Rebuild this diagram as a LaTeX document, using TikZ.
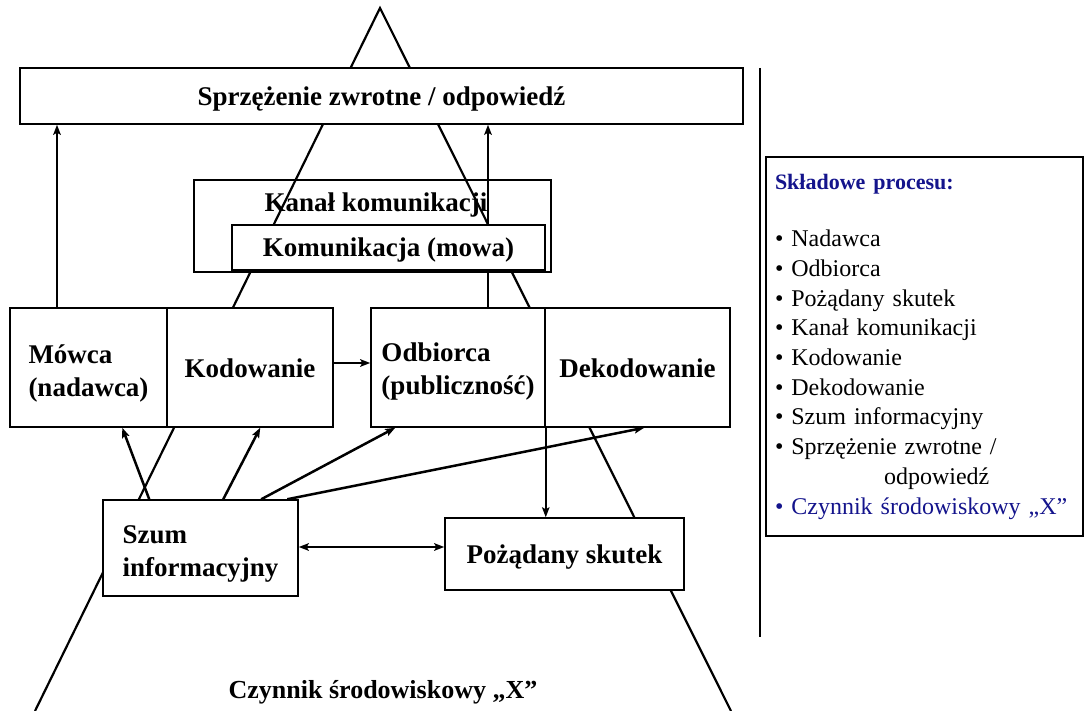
\documentclass[tikz,border=0pt]{standalone}
\usepackage{fontspec}
\setmainfont{Liberation Serif}
\usetikzlibrary{arrows.meta}
\pgfdeclarelayer{back}
\pgfsetlayers{back,main}
\definecolor{listblue}{RGB}{20,20,140}
% lower a piece of text without changing the space it claims
\newcommand{\nudge}[2]{\raisebox{-#1}[\height][\depth]{#2}}
\newcommand{\twolines}[2]{\begin{tabular}{@{}l@{}}#1\\#2\end{tabular}}
\begin{document}
\begin{tikzpicture}[x=1pt,y=-1pt,
  box/.style={draw, line width=1.5pt, fill=white, inner sep=0pt,
    font=\fontsize{27}{33}\selectfont\bfseries},
  arr/.style={line width=2pt, -{Stealth[length=10pt,width=7.5pt,inset=2pt]}},
  noisearr/.style={arr, line width=2.5pt},
  thinarr/.style={arr, line width=1.6pt},
  dblarr/.style={line width=2.2pt, {Stealth[length=10pt,width=7.5pt,inset=2pt]}-{Stealth[length=10pt,width=7.5pt,inset=2pt]}},
  edge/.style={line width=2.2pt},
]
\useasboundingbox (0,0) rectangle (1085,711);

% main boxes
\node[box, minimum width=723pt, minimum height=56pt] (fb) at (381.5,96) {\nudge{3pt}{Sprzężenie zwrotne / odpowiedź}};
\node[box, minimum width=313pt, minimum height=45pt] (komun) at (388.5,247.5) {\nudge{3pt}{Komunikacja (mowa)}};
\node[box, minimum width=157pt, minimum height=119pt] (mowca) at (88.5,367.5) {\nudge{6pt}{\twolines{Mówca}{(nadawca)}}};
\node[box, minimum width=166pt, minimum height=119pt] (kod) at (250,367.5) {\nudge{1pt}{Kodowanie}};
\node[box, minimum width=174pt, minimum height=119pt] (odb) at (458,367.5) {\nudge{4pt}{\twolines{Odbiorca}{(publiczność)}}};
\node[box, minimum width=185pt, minimum height=119pt] (dek) at (637.5,367.5) {\nudge{1pt}{Dekodowanie}};
\node[box, minimum width=195pt, minimum height=96pt] (szum) at (200.5,548) {\nudge{5pt}{\twolines{Szum}{informacyjny}}};
\node[box, minimum width=239pt, minimum height=72pt] (skutek) at (564.5,554) {\nudge{3pt}{Pożądany skutek}};

\node[font=\fontsize{26}{30}\selectfont\bfseries] (czynnik) at (383,692) {Czynnik środowiskowy „X”};

% helper positions
\coordinate (xL) at (57,0);
\coordinate (xR) at (488,0);
\coordinate (yK) at (0,363);
\coordinate (yD) at (0,547);

% channel box, environment triangle and the line through the channel
\begin{pgfonlayer}{back}
  \node[draw, line width=1.5pt, minimum width=357pt, minimum height=92pt] (kanal) at (372.5,226) {};
  \node[font=\fontsize{27}{33}\selectfont\bfseries] (kanaltxt) at (376,205) {Kanał komunikacji};
  \coordinate (apex) at (380,8);
  \coordinate (baseL) at (35,711);
  \coordinate (baseR) at (731,711);
  \draw[edge] (baseL) -- (apex) -- (baseR);
  \draw[arr] (xR |- odb.north) -- (xR |- fb.south);
\end{pgfonlayer}

% connectors
\draw[arr] (xL |- mowca.north) -- (xL |- fb.south);
\draw[arr] (kod.east |- yK) -- (odb.west |- yK);
\draw[noisearr] ([xshift=47pt]szum.north west) -- ([xshift=113pt]mowca.south west);
\draw[noisearr] ([xshift=121pt]szum.north west) -- ([xshift=94pt]kod.south west);
\draw[noisearr] ([xshift=159pt]szum.north west) -- ([xshift=25pt]odb.south west);
\draw[noisearr] ([xshift=185pt]szum.north west) -- ([xshift=100pt]dek.south west);
\draw[thinarr] (odb.south east) -- (odb.south east |- skutek.north);
\draw[dblarr] (szum.east |- yD) -- (skutek.west |- yD);

% separator
\coordinate (sepT) at (760,68);
\coordinate (sepB) at (760,637);
\draw[line width=2.2pt] (sepT) -- (sepB);

% legend
\node[draw, line width=1.5pt, minimum width=317pt, minimum height=379pt,
  text width=299pt, inner xsep=9pt, align=left,
  font=\fontsize{24}{29.7}\selectfont] (panel) at (924.5,346.5) {%
  {\color{listblue}\fontsize{22}{25}\selectfont\bfseries Składowe procesu:}\\[28pt]
  • Nadawca\\
  • Odbiorca\\
  • Pożądany skutek\\
  • Kanał komunikacji\\
  • Kodowanie\\
  • Dekodowanie\\
  • Szum informacyjny\\
  • Sprzężenie zwrotne /\\
  \hspace*{109pt}odpowiedź\\
  {\color{listblue}• Czynnik środowiskowy „X”}};
\end{tikzpicture}
\end{document}
